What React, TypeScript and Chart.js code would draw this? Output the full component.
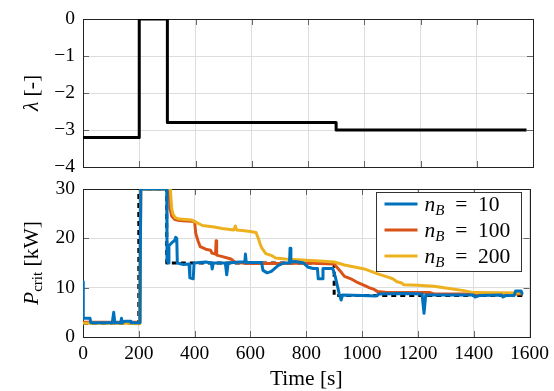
import React, { useEffect, useRef } from "react";
import { Chart, registerables } from "chart.js";

Chart.register(...registerables);

// ---------- data ----------
const lambdaTimes = [0, 200, 200, 300, 300, 900, 900, 1577];
const lambdaValues = [-3.2, -3.2, 0, 0, -2.8, -2.8, -3, -3];

const refTimes = [0, 200, 200, 300, 300, 900, 900, 1577];
const refValues = [2.8, 2.8, 30, 30, 15.0, 15.0, 8.4, 8.4];

const nb10Times = [0, 1, 25, 28, 105, 110, 114, 135, 138, 141, 150, 170, 172, 204, 207, 300, 301, 306, 308, 320, 328, 332, 336, 338, 360, 380, 383, 395, 398, 440, 460, 463, 467, 510, 515, 520, 560, 580, 582, 585, 640, 645, 660, 675, 700, 720, 740, 742, 745, 760, 790, 805, 825, 840, 843, 858, 860, 895, 905, 918, 925, 930, 1000, 1050, 1060, 1150, 1215, 1222, 1228, 1300, 1400, 1405, 1420, 1500, 1505, 1515, 1545, 1550, 1570, 1574, 1577];
const nb10Values = [11.2, 3.8, 3.8, 2.9, 2.9, 5.0, 2.9, 2.9, 3.8, 2.9, 3.2, 3.2, 2.9, 2.9, 30, 30, 15.5, 15.0, 18.5, 19.2, 19.5, 20.2, 20.0, 15.0, 14.7, 14.8, 12.0, 11.8, 15.0, 15.2, 15.0, 13.8, 15.0, 15.0, 12.6, 15.0, 15.2, 15.2, 16.8, 15.1, 15.1, 13.5, 13.0, 13.3, 14.5, 15.0, 15.0, 18.0, 15.2, 15.3, 15.0, 14.2, 13.9, 13.9, 11.8, 11.8, 13.9, 13.9, 12.0, 8.8, 7.5, 8.5, 8.4, 8.3, 8.7, 8.8, 8.7, 4.8, 8.5, 8.5, 8.5, 8.1, 8.4, 8.5, 8.1, 8.4, 8.4, 9.3, 9.3, 8.7, 8.7];

const nb100Times = [0, 204, 207, 308, 312, 318, 330, 345, 400, 404, 412, 420, 440, 457, 462, 475, 477, 479, 500, 530, 546, 600, 700, 800, 900, 920, 937, 960, 985, 1010, 1025, 1045, 1056, 1090, 1244, 1260, 1577];
const nb100Values = [3.0, 3.0, 30, 30, 26, 24.5, 23.8, 23.6, 23.4, 21, 19.5, 18.3, 17.8, 17.6, 17.0, 16.8, 19.5, 16.6, 16.3, 15.8, 15.1, 14.9, 14.9, 15.0, 14.8, 13.5, 12.3, 11.8, 11.0, 10.4, 10.0, 9.6, 9.2, 9.0, 9.0, 8.7, 8.7];

const nb200Times = [0, 150, 200, 204, 207, 313, 318, 322, 330, 345, 390, 404, 428, 470, 499, 540, 546, 550, 570, 600, 620, 628, 635, 641, 655, 676, 690, 725, 784, 850, 900, 937, 1008, 1056, 1090, 1110, 1125, 1140, 1150, 1200, 1257, 1294, 1330, 1365, 1400, 1577];
const nb200Values = [2.8, 2.8, 2.7, 2.7, 30, 30, 26, 25, 24.2, 23.9, 23.7, 23.3, 22.6, 22.3, 22.0, 21.7, 22.5, 21.7, 21.6, 21.4, 21.2, 20.0, 18.8, 18.0, 16.9, 16.5, 16.0, 15.8, 15.6, 15.4, 15.2, 14.6, 13.8, 12.8, 12.2, 11.8, 11.2, 11.0, 10.6, 10.5, 10.3, 10.0, 9.7, 9.4, 9.0, 8.9];

const legendValues = ["10", "100", "200"];
const xMin = 0, xMax = 1600, xStep = 200;
const lambdaMin = -4, lambdaMax = 0, lambdaStep = 1;
const powerMin = 0, powerMax = 30, powerStep = 10;

// ---------- style ----------
const FAM = "'Liberation Serif', 'DejaVu Serif', serif";
const SIZE = 19.5;
const TSIZE = 21.5;
const BLUE = "#0072BD";
const RED = "#D95319";
const YELLOW = "#EDB120";
const GRID = "#dddddd";

const zip = (t: number[], v: number[]) => t.map((x, i) => ({ x, y: v[i] }));
const fmt = (v: any) => {
  const n = Number(v);
  return n < 0 ? "\u2212" + Math.abs(n) : String(n);
};

type Part = { text: string; font: string; dy?: number };
function drawRich(ctx: CanvasRenderingContext2D, parts: Part[], x: number, y: number, center: boolean) {
  let total = 0;
  const widths = parts.map((p) => {
    ctx.font = p.font;
    const w = ctx.measureText(p.text).width;
    total += w;
    return w;
  });
  let cx = center ? x - total / 2 : x;
  parts.forEach((p, i) => {
    ctx.font = p.font;
    ctx.fillText(p.text, cx, y + (p.dy || 0));
    cx += widths[i];
  });
}

const framePlugin = {
  id: "frame",
  beforeDatasetsDraw(chart: any) {
    const { ctx, chartArea: a, scales } = chart;
    ctx.save();
    ctx.strokeStyle = "#666";
    ctx.lineWidth = 1;
    const tl = 6;
    scales.x.ticks.forEach((t: any) => {
      const px = Math.round(scales.x.getPixelForValue(t.value)) + 0.5;
      ctx.beginPath();
      ctx.moveTo(px, a.bottom);
      ctx.lineTo(px, a.bottom - tl);
      ctx.moveTo(px, a.top);
      ctx.lineTo(px, a.top + tl);
      ctx.stroke();
    });
    scales.y.ticks.forEach((t: any) => {
      const py = Math.round(scales.y.getPixelForValue(t.value)) + 0.5;
      ctx.beginPath();
      ctx.moveTo(a.left, py);
      ctx.lineTo(a.left + tl, py);
      ctx.moveTo(a.right, py);
      ctx.lineTo(a.right - tl, py);
      ctx.stroke();
    });
    ctx.strokeStyle = "#222";
    ctx.strokeRect(Math.round(a.left) + 0.5, Math.round(a.top) + 0.5, Math.round(a.right - a.left), Math.round(a.bottom - a.top));
    ctx.restore();
  },
};

function makeOptions(yMin: number, yMax: number, yStep: number, showXLabels: boolean, padTop: number, padBottom: number, xHeight: number) {
  return {
    responsive: false,
    animation: false as const,
    events: [] as any[],
    layout: { padding: { left: 0, right: 21, top: padTop, bottom: padBottom } },
    plugins: { legend: { display: false }, tooltip: { enabled: false } },
    elements: { point: { radius: 0 }, line: { tension: 0, borderJoinStyle: "round" } },
    scales: {
      x: {
        type: "linear" as const,
        min: xMin,
        max: xMax,
        ticks: {
          display: showXLabels,
          stepSize: xStep,
          color: "#000",
          padding: 5,
          maxRotation: 0,
          font: { family: FAM, size: SIZE },
          callback: (v: any) => fmt(v),
        },
        grid: { color: GRID, drawTicks: false, lineWidth: 1 },
        border: { display: false },
        afterFit: (s: any) => {
          s.height = xHeight;
        },
      },
      y: {
        type: "linear" as const,
        min: yMin,
        max: yMax,
        ticks: {
          stepSize: yStep,
          color: "#000",
          padding: 8,
          font: { family: FAM, size: SIZE },
          callback: (v: any) => fmt(v),
        },
        grid: { color: GRID, drawTicks: false, lineWidth: 1 },
        border: { display: false },
        afterFit: (s: any) => {
          s.width = 83;
        },
      },
    },
  };
}

const TOP_CANVAS_TOP = -1;
const TOP_CANVAS_H = 189;
const BOT_CANVAS_TOP = 169;
const BOT_CANVAS_H = 222;

export default function App() {
  const topRef = useRef<HTMLCanvasElement>(null);
  const botRef = useRef<HTMLCanvasElement>(null);

  useEffect(() => {
    const topTitle = {
      id: "topTitle",
      afterDraw(chart: any) {
        const { ctx, chartArea: a } = chart;
        ctx.save();
        ctx.fillStyle = "#000";
        ctx.textBaseline = "alphabetic";
        ctx.translate(38, (a.top + a.bottom) / 2);
        ctx.rotate(-Math.PI / 2);
        drawRich(ctx, [
          { text: "\u03bb", font: `italic ${TSIZE}px ${FAM}` },
          { text: " [-]", font: `${TSIZE}px ${FAM}` },
        ], 0, 0, true);
        ctx.restore();
      },
    };

    const botTitle = {
      id: "botTitle",
      afterDraw(chart: any) {
        const { ctx, chartArea: a } = chart;
        ctx.save();
        ctx.fillStyle = "#000";
        ctx.textBaseline = "alphabetic";
        drawRich(ctx, [
          { text: "Time [s]", font: `${TSIZE}px ${FAM}` },
        ], (a.left + a.right) / 2, 385 - BOT_CANVAS_TOP, true);
        ctx.translate(38, (a.top + a.bottom) / 2);
        ctx.rotate(-Math.PI / 2);
        drawRich(ctx, [
          { text: "P", font: `italic ${TSIZE}px ${FAM}` },
          { text: "crit", font: `15px ${FAM}`, dy: 4 },
          { text: " [kW]", font: `${TSIZE}px ${FAM}` },
        ], 0, 0, true);
        ctx.restore();
      },
    };

    const legendPlugin = {
      id: "customLegend",
      afterDraw(chart: any) {
        const { ctx, chartArea: a } = chart;
        const colors = [BLUE, RED, YELLOW];
        const w = 145, h = 79;
        const left = Math.round(a.right - 9 - w) + 0.5;
        const top = Math.round(a.top + 3) + 0.5;
        ctx.save();
        ctx.fillStyle = "#fff";
        ctx.fillRect(left, top, w, h);
        ctx.strokeStyle = "#333";
        ctx.lineWidth = 1;
        ctx.strokeRect(left, top, w, h);
        legendValues.forEach((val, i) => {
          const cy = top + 11.5 + i * 26;
          ctx.strokeStyle = colors[i];
          ctx.lineWidth = 3;
          ctx.beginPath();
          ctx.moveTo(left + 8, cy);
          ctx.lineTo(left + 41, cy);
          ctx.stroke();
          ctx.fillStyle = "#000";
          ctx.textBaseline = "alphabetic";
          drawRich(ctx, [
            { text: "n", font: `italic ${TSIZE}px ${FAM}` },
            { text: "B", font: `italic 15px ${FAM}`, dy: 4 },
            { text: "\u2002=\u2002" + val, font: `${TSIZE}px ${FAM}` },
          ], left + 48, cy + 7, false);
        });
        ctx.restore();
      },
    };

    const top = new Chart(topRef.current!, {
      type: "line",
      data: {
        datasets: [
          {
            data: zip(lambdaTimes, lambdaValues),
            borderColor: "#000",
            borderWidth: 3,
            pointRadius: 0,
            fill: false,
          },
        ],
      },
      options: makeOptions(lambdaMin, lambdaMax, lambdaStep, false, 20, 21, 0) as any,
      plugins: [framePlugin, topTitle],
    });

    const bot = new Chart(botRef.current!, {
      type: "line",
      data: {
        datasets: [
          { label: "nB=10", data: zip(nb10Times, nb10Values), borderColor: BLUE, borderWidth: 3, pointRadius: 0, fill: false },
          { label: "nB=200", data: zip(nb200Times, nb200Values), borderColor: YELLOW, borderWidth: 3, pointRadius: 0, fill: false },
          { label: "nB=100", data: zip(nb100Times, nb100Values), borderColor: RED, borderWidth: 3, pointRadius: 0, fill: false },
          { label: "ref", data: zip(refTimes, refValues), borderColor: "#000", borderWidth: 3, borderDash: [5, 4], pointRadius: 0, fill: false },
        ],
      },
      options: makeOptions(powerMin, powerMax, powerStep, true, 20, 0, 54) as any,
      plugins: [framePlugin, botTitle, legendPlugin],
    });

    return () => {
      top.destroy();
      bot.destroy();
    };
  }, []);

  return (
    <div style={{ position: "absolute", left: 0, top: 0, width: 554, height: 391, background: "#fff", overflow: "hidden" }}>
      <canvas ref={topRef} width={554} height={TOP_CANVAS_H} style={{ position: "absolute", left: 0, top: TOP_CANVAS_TOP, display: "block" }} />
      <canvas ref={botRef} width={554} height={BOT_CANVAS_H} style={{ position: "absolute", left: 0, top: BOT_CANVAS_TOP, display: "block" }} />
    </div>
  );
}
